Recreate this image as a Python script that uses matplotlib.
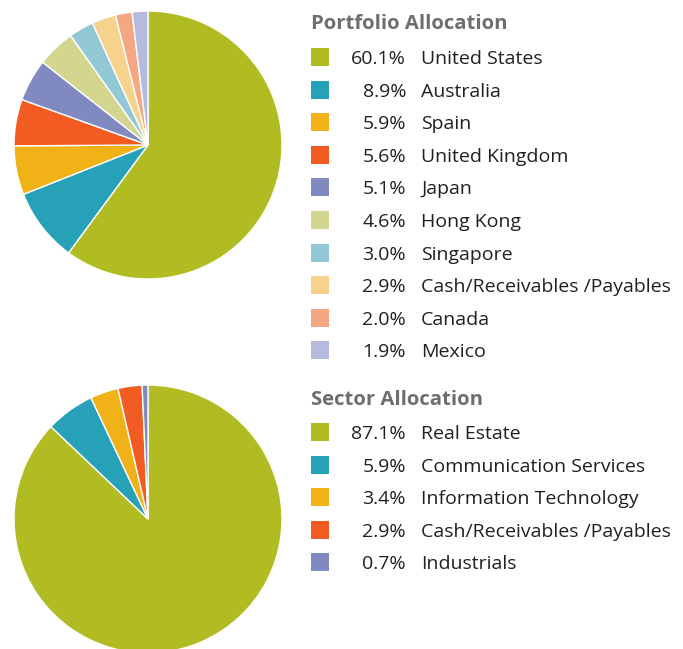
import matplotlib
matplotlib.use("Agg")
import matplotlib.pyplot as plt
from matplotlib.patches import Rectangle

# Portfolio (country) allocation
country_names = ["United States", "Australia", "Spain", "United Kingdom", "Japan",
                 "Hong Kong", "Singapore", "Cash/Receivables /Payables", "Canada", "Mexico"]
country_pct = [60.1, 8.9, 5.9, 5.6, 5.1, 4.6, 3.0, 2.9, 2.0, 1.9]
country_colors = ["#B0BC22", "#27A1B8", "#F0B216", "#F25C22", "#8189C1",
                  "#D3D68F", "#92C8D6", "#F6D28C", "#F5A683", "#B6BBDD"]

# Sector allocation
sector_names = ["Real Estate", "Communication Services", "Information Technology",
                "Cash/Receivables /Payables", "Industrials"]
sector_pct = [87.1, 5.9, 3.4, 2.9, 0.7]
sector_colors = ["#B0BC22", "#27A1B8", "#F0B216", "#F25C22", "#8189C1"]

W, H = 683, 649
plt.rcParams['font.family'] = ['Open Sans', 'DejaVu Sans']
fig = plt.figure(figsize=(W / 100, H / 100), dpi=100)


def pie_axes(left, top, size):
    # pixel box -> figure fraction
    return fig.add_axes([left / W, (H - top - size) / H, size / W, size / H])


ax1 = pie_axes(14, 11, 268)
ax1.pie(country_pct, colors=country_colors, startangle=90, counterclock=False,
        wedgeprops=dict(edgecolor="white", linewidth=1))
ax1.set_xlim(-1, 1)
ax1.set_ylim(-1, 1)
ax1.axis("off")

ax2 = pie_axes(14, 385, 268)
ax2.pie(sector_pct, colors=sector_colors, startangle=90, counterclock=False,
        wedgeprops=dict(edgecolor="white", linewidth=1))
ax2.set_xlim(-1, 1)
ax2.set_ylim(-1, 1)
ax2.axis("off")

# legend drawn in pixel space
lg = fig.add_axes([0, 0, 1, 1])
lg.set_xlim(0, W)
lg.set_ylim(H, 0)
lg.axis("off")
lg.patch.set_alpha(0)


def legend_block(title, title_y, first_y, names, pct, colors):
    lg.text(311, title_y, title, fontsize=14.6, fontweight="bold", color="#6D6E71",
            va="center", ha="left")
    for i, (n, p, c) in enumerate(zip(names, pct, colors)):
        y = first_y + i * 32.6
        lg.add_patch(Rectangle((311, y - 9), 18, 18, color=c, lw=0))
        lg.text(406, y + 2, f"{p:.1f}%", fontsize=14, color="#231F20", va="center", ha="right")
        lg.text(421, y + 2, n, fontsize=14, color="#231F20", va="center", ha="left")


legend_block("Portfolio Allocation", 24, 57, country_names, country_pct, country_colors)
legend_block("Sector Allocation", 400, 432, sector_names, sector_pct, sector_colors)

fig.savefig("out.png", dpi=100)
